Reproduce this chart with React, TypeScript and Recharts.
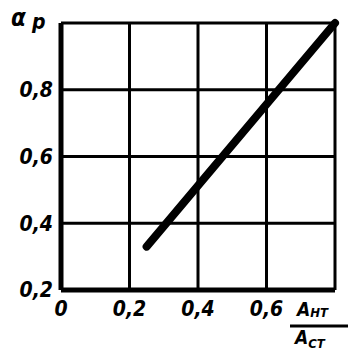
import { LineChart, Line, XAxis, YAxis, CartesianGrid } from "recharts";

// A_HT / A_CT ratio and the matching alpha_p
const ratio = [0.25, 0.8];
const alphaP = [0.33, 1.0];

const xTicks = [0, 0.2, 0.4, 0.6, 0.8];
const yTicks = [0.2, 0.4, 0.6, 0.8, 1.0];

const data = ratio.map((r, i) => ({ ratio: r, alpha: alphaP[i] }));

const FONT = "'DejaVu Sans Condensed', 'DejaVu Sans'";

const fmt = (v: number): string => (v === 0 ? "0" : v.toFixed(1).replace(".", ","));

const labelStyle = {
  fontFamily: FONT,
  fontWeight: "bold" as const,
  fontStyle: "italic" as const,
  fill: "#000",
};

function XTick(props: any): React.ReactElement {
  const { x, y, payload } = props;
  if (payload.value === 0.8) {
    // fraction label in place of the last tick
    return (
      <g style={labelStyle}>
        <text x={x - 38} y={y + 18} fontSize={19}>
          А<tspan fontSize={13} dy={1}>НТ</tspan>
        </text>
        <line x1={x - 45} x2={x + 13} y1={y + 28} y2={y + 28} stroke="#000" strokeWidth={3} />
        <text x={x - 40} y={y + 46} fontSize={19}>
          А<tspan fontSize={13} dy={4}>СТ</tspan>
        </text>
      </g>
    );
  }
  return (
    <text x={x} y={y + 3} dy="0.71em" textAnchor="middle" fontSize={21} {...labelStyle}>
      {fmt(payload.value)}
    </text>
  );
}

export default function App(): React.ReactElement {
  return (
    <div style={{ position: "absolute", left: 0, top: 0, background: "#fff" }}>
      <LineChart
        width={348}
        height={354}
        data={data}
        margin={{ top: 23, right: 13, left: 0, bottom: 34 }}
      >
        <CartesianGrid stroke="#000" strokeWidth={3} />
        <XAxis
          dataKey="ratio"
          type="number"
          domain={[0, 0.8]}
          ticks={xTicks}
          height={30}
          tickLine={false}
          axisLine={{ stroke: "#000", strokeWidth: 5 }}
          tick={<XTick />}
          interval={0}
        />
        <YAxis
          type="number"
          domain={[0.2, 1.0]}
          ticks={yTicks}
          width={61}
          tickLine={false}
          axisLine={{ stroke: "#000", strokeWidth: 5 }}
          tick={{ fontSize: 21, ...labelStyle }}
          tickFormatter={(v: number) => (v === 1 ? "" : fmt(v))}
          interval={0}
        />
        <text x={11} y={26} fontSize={24} style={labelStyle}>
          α
        </text>
        <text x={32} y={29} fontSize={21} style={labelStyle}>
          p
        </text>
        <Line
          dataKey="alpha"
          stroke="#000"
          strokeWidth={8}
          strokeLinecap="round"
          dot={false}
          isAnimationActive={false}
        />
      </LineChart>
    </div>
  );
}
